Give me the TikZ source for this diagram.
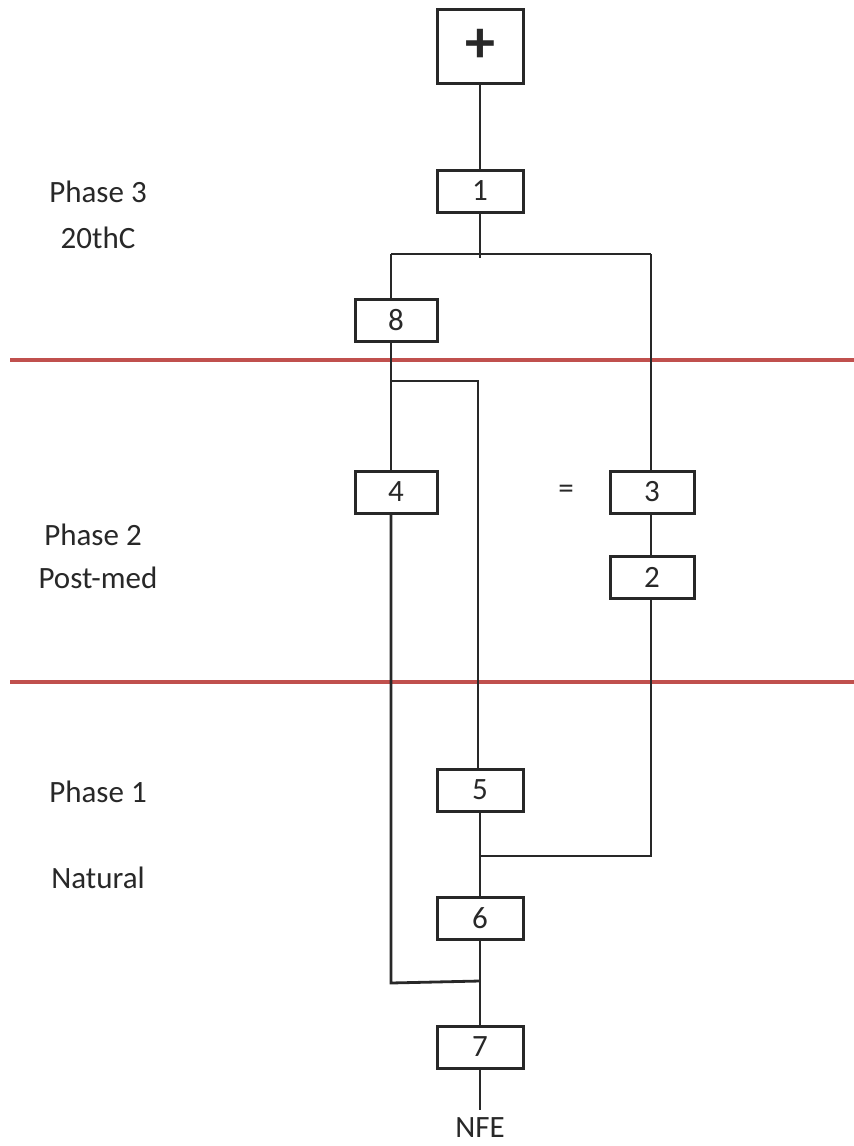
\documentclass[tikz,border=0pt]{standalone}
\usepackage{fontspec}
\setmainfont{Carlito}
\definecolor{redline}{RGB}{192,80,77}
\definecolor{ink}{RGB}{40,40,40}
\begin{document}
\begin{tikzpicture}[x=1pt,y=-1pt,
  box/.style={draw=ink,line width=3pt,minimum height=42pt,inner sep=0pt,font=\fontsize{31}{33}\selectfont,text=ink},
  lbl/.style={font=\fontsize{31}{33}\selectfont,text=ink,inner sep=0pt},
  conn/.style={draw=ink,line width=2.8pt},
  phaseline/.style={draw=redline,line width=3.2pt}]
\fill[white] (0,0) rectangle (854,1146);
\useasboundingbox (0,0) rectangle (854,1146);
% boxes
\node[box,minimum width=86pt,minimum height=74pt,font=\fontsize{60}{60}\selectfont\bfseries] (bp) at (480,46) {+};
\node[box,minimum width=86pt] (b1) at (480,191) {1};
\node[box,minimum width=82pt] (b8) at (396,320) {8};
\node[box,minimum width=82pt] (b4) at (396,492) {4};
\node[box,minimum width=84pt] (b3) at (652,492) {3};
\node[box,minimum width=84pt] (b2) at (652,577) {2};
\node[box,minimum width=86pt] (b5) at (480,790) {5};
\node[box,minimum width=86pt] (b6) at (480,918) {6};
\node[box,minimum width=86pt] (b7) at (480,1047) {7};
\node[lbl] (nfe) at (480,1128) {NFE};
\node[lbl] (eq) at (566,492) {=};
% phase labels
\node[lbl] (p3a) at (98,192) {Phase 3};
\node[lbl] (p3b) at (98,238) {20thC};
\node[lbl] (p2a) at (93,535) {Phase 2};
\node[lbl] (p2b) at (98,578) {Post-med};
\node[lbl] (p1a) at (98,792) {Phase 1};
\node[lbl] (p1b) at (98,878) {Natural};
% phase separators
\coordinate (r1a) at (10,360); \coordinate (r1b) at (854,360);
\coordinate (r2a) at (10,682); \coordinate (r2b) at (854,682);
\draw[phaseline] (r1a) -- (r1b);
\draw[phaseline] (r2a) -- (r2b);
% connectors
\coordinate (t1) at (480,258);
\coordinate (L1) at (391,254);
\coordinate (R1) at (651,254);
\coordinate (s8) at (391,381);
\coordinate (s5) at (478,381);
\coordinate (m2) at (651,856);
\coordinate (m5) at (480,856);
\coordinate (q4) at (391,983);
\coordinate (q6) at (480,981);
\coordinate (nt) at (480,1110);
\draw[conn] (bp.south) -- (b1.north);
\draw[conn] (b1.south) -- (t1);
\draw[conn] (L1) -- (R1);
\draw[conn] (L1) -- (L1 |- b8.north);
\draw[conn] (L1 |- b8.south) -- (L1 |- b4.north);
\draw[conn] (s8) -- (s5) -- (s5 |- b5.north);
\draw[conn] (R1) -- (R1 |- b3.north);
\draw[conn] (R1 |- b3.south) -- (R1 |- b2.north);
\draw[conn] (R1 |- b2.south) -- (m2) -- (m5);
\draw[conn] (b5.south) -- (b6.north);
\draw[conn] (L1 |- b4.south) -- (q4) -- (q6);
\draw[conn] (b6.south) -- (b7.north);
\draw[conn] (b7.south) -- (nt);
\end{tikzpicture}
\end{document}
